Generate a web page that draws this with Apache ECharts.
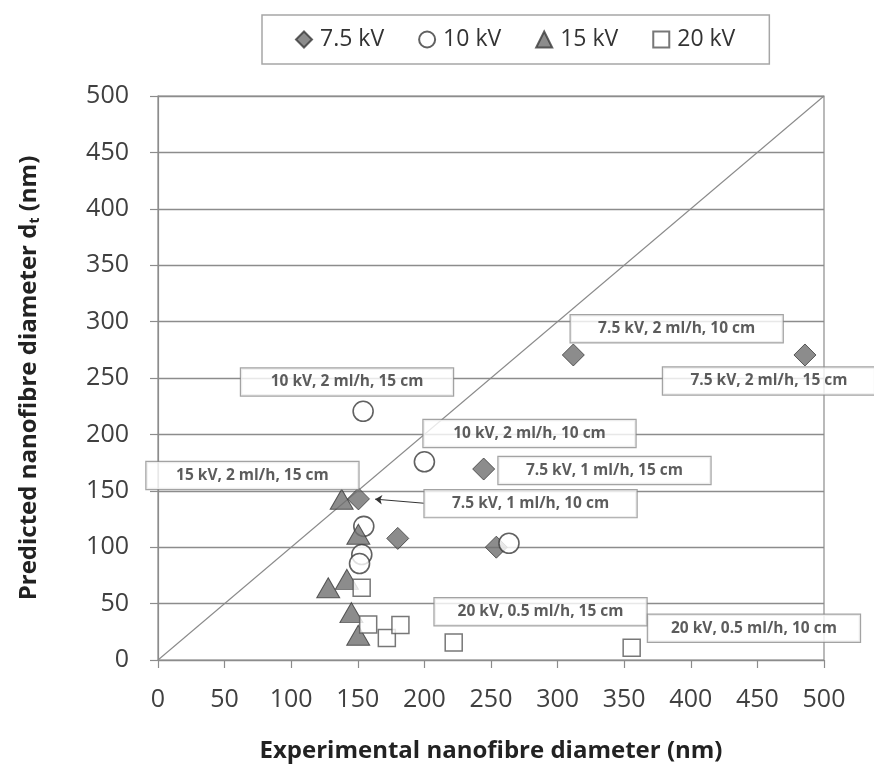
<!DOCTYPE html>
<html>
<head>
<meta charset="utf-8">
<script src="https://cdn.jsdelivr.net/npm/echarts@6/dist/echarts.min.js"></script>
<style>
  html, body { margin: 0; padding: 0; background: #fff; }
  #chart { width: 874px; height: 772px; }
</style>
</head>
<body>
<div id="chart"></div>
<script>
// Experimental vs predicted nanofibre diameter (nm), one list per applied voltage
const voltages = ['7.5 kV', '10 kV', '15 kV', '20 kV'];
const kv7_5 = [[311.8, 270.4], [485.7, 270.4], [244.5, 169.3], [150.5, 142.8], [180.0, 107.8], [254.0, 100.0]];
const kv10  = [[154.0, 220.5], [200.0, 175.7], [263.5, 103.5], [154.5, 118.5], [153.0, 93.5], [151.3, 85.5]];
const kv15  = [[137.9, 142.5], [150.4, 111.5], [141.8, 71.5], [127.8, 64.0], [145.2, 42.0], [150.3, 22.0]];
const kv20  = [[152.9, 64.0], [157.8, 31.5], [171.8, 19.5], [182.0, 31.0], [222.0, 15.5], [355.6, 10.8]];

// Axis ticks
const axisMin = 0, axisMax = 500, axisStep = 50;

// Callout texts and where their boxes sit (axis units)
const calloutText = [
  '7.5 kV, 2 ml/h, 10 cm', '7.5 kV, 2 ml/h, 15 cm', '10 kV, 2 ml/h, 15 cm',
  '10 kV, 2 ml/h, 10 cm', '7.5 kV, 1 ml/h, 15 cm', '7.5 kV, 1 ml/h, 10 cm',
  '15 kV, 2 ml/h, 15 cm', '20 kV, 0.5 ml/h, 15 cm', '20 kV, 0.5 ml/h, 10 cm'
];
const calloutAt = [
  [389.4, 293.7], [458.7, 247.3], [141.9, 246.5],
  [278.9, 200.8], [335.2, 168.0], [279.7, 138.6],
  [70.9, 163.6], [287.2, 42.8], [447.4, 28.1]
];
// Leader arrow from the "7.5 kV, 1 ml/h, 10 cm" box to its point
const leader = [[199.5, 139.0], [163.0, 142.6]];

const font = '"Open Sans", Lato, sans-serif';
const darkEdge = '#3a3a3a';

const chart = echarts.init(document.getElementById('chart'), null, { renderer: 'canvas' });

const markerStyles = [
  { symbol: 'diamond', symbolSize: 22, itemStyle: { color: '#6f6f6f', borderColor: darkEdge, borderWidth: 1 } },
  { symbol: 'circle', symbolSize: 20, itemStyle: { color: '#ffffff', borderColor: darkEdge, borderWidth: 1.6 } },
  { symbol: 'triangle', symbolSize: [23, 20], itemStyle: { color: '#6f6f6f', borderColor: darkEdge, borderWidth: 1 } },
  { symbol: 'rect', symbolSize: 17, itemStyle: { color: '#ffffff', borderColor: '#555555', borderWidth: 1.5 } }
];
const seriesData = [kv7_5, kv10, kv15, kv20];

const pointSeries = voltages.map((name, i) => Object.assign({
  name: name,
  type: 'scatter',
  data: seriesData[i],
  z: 3,
  silent: true
}, markerStyles[i]));

const option = {
  animation: false,
  backgroundColor: '#ffffff',
  textStyle: { fontFamily: font },
  legend: {
    data: voltages,
    left: 262,
    top: 15,
    padding: [13, 34, 13, 33],
    itemGap: 34,
    itemWidth: 16,
    itemHeight: 16,
    borderColor: '#a6a6a6',
    borderWidth: 1.5,
    textStyle: { fontSize: 23, color: '#333', fontFamily: font, padding: [0, 0, 0, 3] },
    selectedMode: false
  },
  grid: {
    left: 158, right: 50, top: 96, bottom: 112,
    show: true, borderColor: '#8c8c8c', borderWidth: 1.2, backgroundColor: 'transparent'
  },
  xAxis: {
    type: 'value',
    min: axisMin, max: axisMax, interval: axisStep,
    name: 'Experimental nanofibre diameter (nm)',
    nameLocation: 'middle',
    nameGap: 79,
    nameTextStyle: { fontSize: 24, fontWeight: 'bold', color: '#222', fontFamily: font },
    axisLine: { show: true, lineStyle: { color: '#8c8c8c', width: 1.2 } },
    axisTick: { show: true, length: 8, lineStyle: { color: '#8c8c8c', width: 1.2 } },
    axisLabel: { fontSize: 25, color: '#404040', margin: 27, fontFamily: font },
    splitLine: { show: false }
  },
  yAxis: {
    type: 'value',
    min: axisMin, max: axisMax, interval: axisStep,
    name: '{a|Predicted nanofibre diameter d}{s|t}{a| (nm)}',
    nameLocation: 'middle',
    nameGap: 115,
    nameTextStyle: {
      rich: {
        a: { fontSize: 24, fontWeight: 'bold', color: '#222', fontFamily: font, lineHeight: 28 },
        s: { fontSize: 14, fontWeight: 'bold', color: '#222', fontFamily: font, padding: [13, 0, 0, 0], lineHeight: 28 }
      }
    },
    axisLine: { show: true, lineStyle: { color: '#8c8c8c', width: 1.2 } },
    axisTick: { show: true, length: 8, lineStyle: { color: '#8c8c8c', width: 1.2 } },
    axisLabel: { fontSize: 25, color: '#404040', margin: 29, fontFamily: font },
    splitLine: { show: true, lineStyle: { color: '#8c8c8c', width: 1.4 } }
  },
  series: [
    {
      // 1:1 reference line
      name: 'parity',
      type: 'line',
      data: [[axisMin, axisMin], [axisMax, axisMax]],
      showSymbol: false,
      silent: true,
      z: 2,
      lineStyle: { color: '#8a8a8a', width: 1.1 }
    }
  ].concat(pointSeries).concat([
    {
      name: 'callouts',
      type: 'scatter',
      silent: true,
      z: 10,
      symbol: 'rect',
      symbolSize: 1,
      itemStyle: { color: 'rgba(0,0,0,0)' },
      data: calloutText.map((t, i) => ({ name: t, value: calloutAt[i] })),
      label: {
        show: true,
        position: 'inside',
        formatter: '{b}',
        fontFamily: font,
        fontSize: 15.5,
        fontWeight: 'bold',
        color: '#333',
        backgroundColor: '#ffffff',
        borderColor: '#8c8c8c',
        borderWidth: 1.2,
        width: 204,
        height: 21,
        lineHeight: 21,
        align: 'center',
        padding: [3, 4, 3, 4]
      },
      markLine: {
        silent: true,
        symbol: ['none', 'arrow'],
        symbolSize: 7,
        label: { show: false },
        lineStyle: { color: '#333', width: 1, type: 'solid' },
        data: [[{ coord: leader[0] }, { coord: leader[1] }]]
      }
    }
  ])
};

chart.setOption(option);
</script>
</body>
</html>
